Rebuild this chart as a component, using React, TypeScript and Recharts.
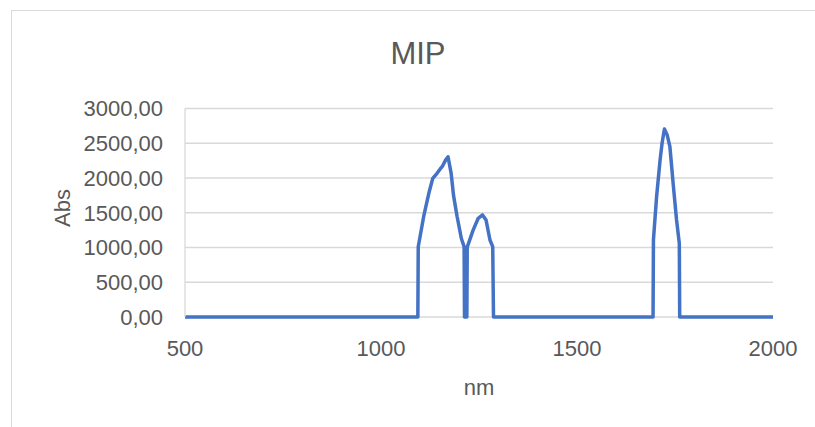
import { LineChart, Line, XAxis, YAxis, CartesianGrid } from "recharts";

const nm = [
  500, 1094, 1095, 1109, 1122, 1132, 1143, 1151, 1157, 1164, 1171, 1179, 1185,
  1194, 1205, 1212, 1213, 1219, 1220, 1235, 1248, 1259, 1268, 1278, 1285, 1287,
  1694, 1695, 1703, 1712, 1717, 1723, 1730, 1737, 1746, 1754, 1761, 1762, 2000,
];
const abs = [
  0, 0, 1010, 1450, 1780, 1995, 2067, 2130, 2172, 2250, 2306, 2067, 1750, 1450,
  1130, 1012, 0, 0, 1005, 1250, 1420, 1468, 1395, 1108, 1012, 0, 0, 1108, 1730,
  2260, 2500, 2705, 2620, 2450, 1875, 1396, 1060, 0, 0,
];
const xTicks = [500, 1000, 1500, 2000];
const yTicks = [0, 500, 1000, 1500, 2000, 2500, 3000];

const data = nm.map((x, i) => ({ nm: x, abs: abs[i] }));

const font = "'Liberation Sans', Arial, sans-serif";
const textColor = "#595959";
const gridColor = "#D9D9D9";

function AbsLabel(props: any) {
  const vb = props.viewBox || {};
  const cx = vb.x + 62;
  const cy = 208;
  return (
    <text
      x={cx}
      y={cy}
      transform={`rotate(-90, ${cx}, ${cy})`}
      textAnchor="middle"
      dominantBaseline="central"
      fill={textColor}
      fontSize={22}
      fontFamily={font}
    >
      Abs
    </text>
  );
}

export default function App() {
  return (
    <div
      style={{
        position: "absolute",
        left: 0,
        top: 0,
        width: 815,
        height: 427,
        background: "#fff",
        overflow: "hidden",
        fontFamily: font,
      }}
    >
      <div
        style={{
          position: "absolute",
          left: 11,
          top: 10,
          width: 900,
          height: 500,
          borderLeft: `1.5px solid ${gridColor}`,
          borderTop: `1.5px solid ${gridColor}`,
        }}
      />
      <div
        style={{
          position: "absolute",
          left: 318,
          width: 200,
          top: 36,
          textAlign: "center",
          fontSize: 31,
          color: textColor,
          lineHeight: "36px",
        }}
      >
        MIP
      </div>
      <div style={{ position: "absolute", left: 0, top: 0 }}>
        <LineChart
          width={815}
          height={427}
          data={data}
          margin={{ top: 108.5, right: 42, bottom: 0, left: 0 }}
        >
          <CartesianGrid
            vertical={false}
            stroke={gridColor}
            strokeWidth={1.3}
          />
          <XAxis
            dataKey="nm"
            type="number"
            domain={[500, 2000]}
            ticks={xTicks}
            height={110}
            tickSize={0}
            tickMargin={23}
            axisLine={false}
            tick={{ fill: textColor, fontSize: 22, fontFamily: font }}
            label={{
              value: "nm",
              position: "insideTop",
              offset: 62,
              fill: textColor,
              fontSize: 22,
              fontFamily: font,
            }}
          />
          <YAxis
            type="number"
            domain={[0, 3000]}
            ticks={yTicks}
            width={185}
            tickSize={0}
            tickMargin={22}
            tickFormatter={(v: number) => v.toFixed(2).replace(".", ",")}
            axisLine={{ stroke: gridColor, strokeWidth: 1.3 }}
            tick={{ fill: textColor, fontSize: 22, fontFamily: font }}
            label={<AbsLabel />}
          />
          <Line
            type="linear"
            dataKey="abs"
            stroke="#4472C4"
            strokeWidth={3.5}
            dot={false}
            strokeLinejoin="round"
            isAnimationActive={false}
          />
        </LineChart>
      </div>
    </div>
  );
}
